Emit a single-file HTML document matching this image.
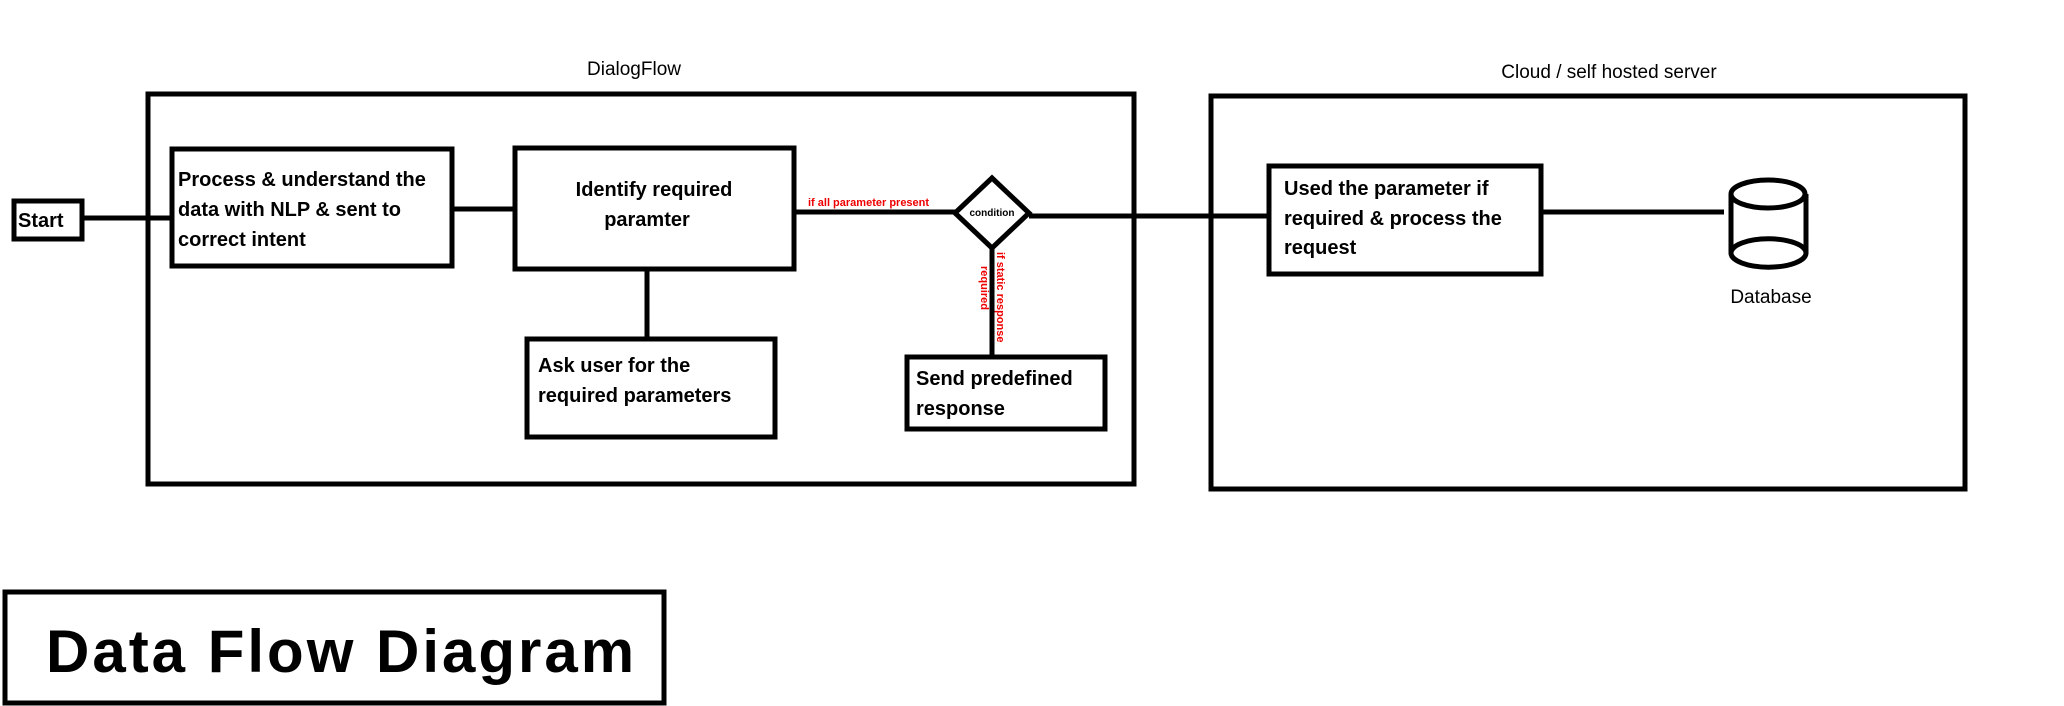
<!DOCTYPE html>
<html><head><meta charset="utf-8"><style>
html,body{margin:0;padding:0;background:#fff;}
svg{display:block;}
text{font-family:"Liberation Sans",sans-serif;fill:#000;}
</style></head><body>
<svg width="2064" height="706" viewBox="0 0 2064 706" xmlns="http://www.w3.org/2000/svg">
<g fill="none" stroke="#000" stroke-width="5">
<rect x="148" y="94" width="986" height="390"/>
<rect x="1211" y="96" width="754" height="393"/>
<rect x="14" y="201" width="68" height="38"/>
<rect x="172" y="149" width="280" height="117"/>
<rect x="515" y="148" width="279" height="121"/>
<rect x="527" y="339" width="248" height="98"/>
<rect x="907" y="357" width="198" height="72"/>
<rect x="1269" y="166" width="272" height="108"/>
<rect x="5" y="592" width="659" height="111"/>
<polygon points="992,178 1029,213 992,248 955,213"/>
<line x1="82" y1="218" x2="172" y2="218"/>
<line x1="452" y1="209" x2="515" y2="209"/>
<line x1="794" y1="212" x2="955" y2="212"/>
<line x1="1029" y1="216" x2="1269" y2="216"/>
<line x1="1541" y1="212" x2="1724" y2="212"/>
<line x1="647" y1="269" x2="647" y2="339"/>
<line x1="992" y1="248" x2="992" y2="357"/>
<path d="M1731,194 L1731,253 M1806,194 L1806,253"/>
<ellipse cx="1768" cy="194" rx="37" ry="14"/>
<path d="M1731,253 A37 14 0 0 0 1806,253"/>
<path d="M1731,253 A37 14 0 0 1 1806,253"/>
</g>
<text x="634" y="75" font-size="19" text-anchor="middle">DialogFlow</text>
<text x="1609" y="78" font-size="19" text-anchor="middle">Cloud / self hosted server</text>
<text x="18" y="227" font-size="20" font-weight="bold">Start</text>
<g font-size="20" font-weight="bold">
<text x="178" y="186">Process &amp; understand the</text>
<text x="178" y="216">data with NLP &amp; sent to</text>
<text x="178" y="246">correct intent</text>
<text x="654" y="196" text-anchor="middle">Identify required</text>
<text x="647" y="226" text-anchor="middle">paramter</text>
<text x="538" y="372">Ask user for the</text>
<text x="538" y="402">required parameters</text>
<text x="916" y="385">Send predefined</text>
<text x="916" y="415">response</text>
<text x="1284" y="195">Used the parameter if</text>
<text x="1284" y="225">required &amp; process the</text>
<text x="1284" y="254">request</text>
</g>
<text x="1771" y="303" font-size="19" text-anchor="middle">Database</text>
<text x="992" y="216" font-size="10" font-weight="bold" text-anchor="middle">condition</text>
<text x="808" y="206" font-size="11" font-weight="bold" style="fill:#e00">if all parameter present</text>
<text transform="translate(997,252) rotate(90)" font-size="11" font-weight="bold" style="fill:#e00">if static response</text>
<text transform="translate(981,266) rotate(90)" font-size="11" font-weight="bold" style="fill:#e00">required</text>
<text x="46" y="672" font-size="60" font-weight="bold" letter-spacing="3">Data Flow Diagram</text>
</svg>
</body></html>
